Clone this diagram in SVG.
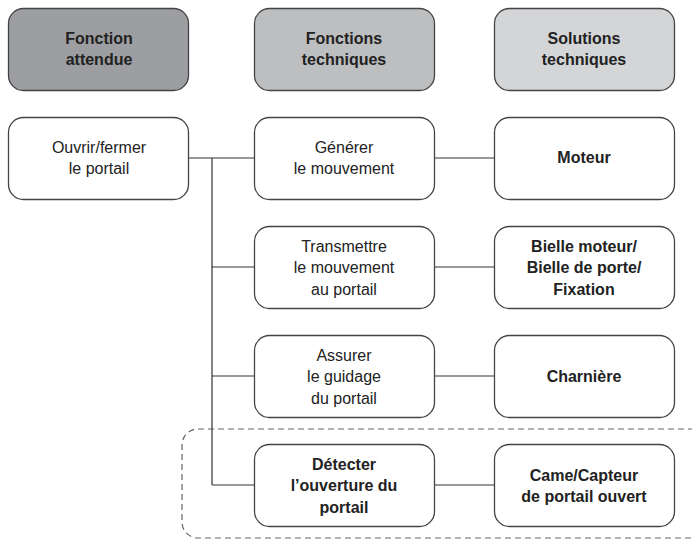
<svg xmlns="http://www.w3.org/2000/svg" width="692" height="540" viewBox="0 0 692 540">
<style>
.b{stroke:#444;stroke-width:1.3;fill:#fff}
.h1{fill:#9d9ea1}.h2{fill:#bdbec0}.h3{fill:#d4d5d7}
text{font-family:"Liberation Sans",Arial,sans-serif;font-size:16px;fill:#222;text-anchor:middle}
.bd{font-weight:bold}
.c{stroke:#333;stroke-width:1.2;fill:none}
</style>
<rect width="692" height="540" fill="#fff"/>
<g id="group_dashed"><rect x="182" y="429" width="530" height="109" rx="16" fill="none" stroke="#666" stroke-width="1.2" stroke-dasharray="6,4"/></g>
<g id="connectors">
<path class="c" d="M189 158H254M212 158V485M212 267H254M212 376H254M212 485H254M434 158H494M434 267H494M434 376H494M434 485H494"/>
</g>
<g id="h_fa"><rect class="b h1" x="8.5" y="8.5" width="180" height="82" rx="15"/><text class="bd" x="99" y="44">Fonction</text><text class="bd" x="99" y="65">attendue</text></g>
<g id="h_ft"><rect class="b h2" x="254.5" y="8.5" width="180" height="82" rx="15"/><text class="bd" x="344" y="44">Fonctions</text><text class="bd" x="344" y="65">techniques</text></g>
<g id="h_st"><rect class="b h3" x="494.5" y="8.5" width="180" height="82" rx="15"/><text class="bd" x="584" y="44">Solutions</text><text class="bd" x="584" y="65">techniques</text></g>
<g id="ouvrir"><rect class="b" x="8.5" y="117.5" width="180" height="82" rx="15"/><text x="99" y="153">Ouvrir/fermer</text><text x="99" y="174">le portail</text></g>
<g id="generer"><rect class="b" x="254.5" y="117.5" width="180" height="82" rx="15"/><text x="344" y="153">Générer</text><text x="344" y="174">le mouvement</text></g>
<g id="moteur"><rect class="b" x="494.5" y="117.5" width="180" height="82" rx="15"/><text class="bd" x="584" y="163">Moteur</text></g>
<g id="transmettre"><rect class="b" x="254.5" y="226.5" width="180" height="82" rx="15"/><text x="344" y="252">Transmettre</text><text x="344" y="273">le mouvement</text><text x="344" y="295">au portail</text></g>
<g id="bielle"><rect class="b" x="494.5" y="226.5" width="180" height="82" rx="15"/><text class="bd" x="584" y="252">Bielle moteur/</text><text class="bd" x="584" y="273">Bielle de porte/</text><text class="bd" x="584" y="295">Fixation</text></g>
<g id="assurer"><rect class="b" x="254.5" y="335.5" width="180" height="82" rx="15"/><text x="344" y="361">Assurer</text><text x="344" y="382">le guidage</text><text x="344" y="404">du portail</text></g>
<g id="charniere"><rect class="b" x="494.5" y="335.5" width="180" height="82" rx="15"/><text class="bd" x="584" y="382">Charnière</text></g>
<g id="detecter"><rect class="b" x="254.5" y="444.5" width="180" height="82" rx="15"/><text class="bd" x="344" y="470">Détecter</text><text class="bd" x="344" y="491">l’ouverture du</text><text class="bd" x="344" y="513">portail</text></g>
<g id="came"><rect class="b" x="494.5" y="444.5" width="180" height="82" rx="15"/><text class="bd" x="584" y="481">Came/Capteur</text><text class="bd" x="584" y="502">de portail ouvert</text></g>
</svg>
